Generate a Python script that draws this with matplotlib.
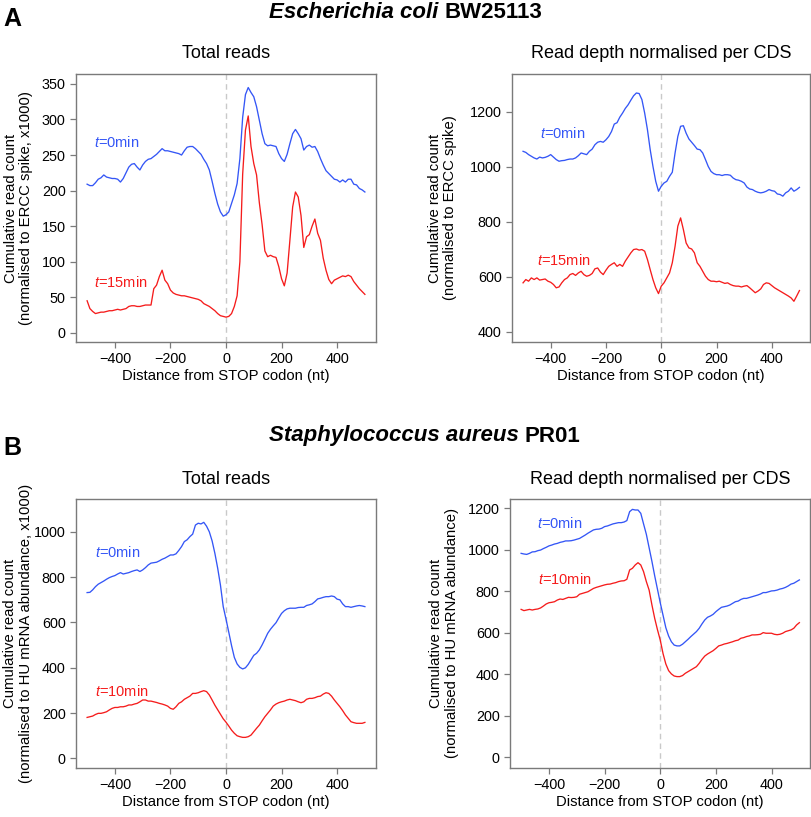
import numpy as np
import matplotlib
matplotlib.use('Agg')
import matplotlib.pyplot as plt

plt.rcParams['font.family'] = ['Liberation Sans', 'DejaVu Sans']
plt.rcParams['mathtext.fontset'] = 'custom'
plt.rcParams['mathtext.rm'] = 'Liberation Sans'
plt.rcParams['mathtext.it'] = 'Liberation Sans:italic'

BLUE = '#3456f6'
RED = '#f51c1c'
FRAME = '#7a7a7a'

# distance from STOP codon (nt), one value every 10 nt
positions = np.arange(-500, 501, 10)

# E. coli, total reads (x1000)
ecoli_total_t0 = [
    209, 207, 207, 211, 216, 218, 222, 219, 218, 217,
    217, 216, 212, 217, 225, 233, 237, 238, 233, 229,
    236, 241, 244, 245, 248, 251, 255, 259, 256, 256,
    255, 254, 253, 252, 250, 256, 261, 262, 262, 259,
    255, 251, 244, 238, 229, 213, 196, 181, 170, 164,
    166, 170, 182, 194, 210, 245, 303, 335, 345, 338,
    332, 318, 299, 280, 266, 263, 264, 263, 262, 252,
    245, 241, 251, 266, 280, 286, 280, 273, 257, 262,
    264, 261, 262, 255, 245, 236, 228, 224, 220, 216,
    215, 212, 215, 212, 216, 216, 209, 208, 203, 201, 198]
ecoli_total_t15 = [
    45, 34, 30, 27, 28, 29, 29, 30, 31, 31,
    32, 33, 32, 33, 34, 37, 38, 38, 37, 37,
    38, 39, 39, 39, 62, 67, 79, 88, 74, 69,
    60, 56, 54, 53, 52, 52, 51, 50, 49, 48,
    47, 45, 41, 39, 37, 34, 31, 27, 24, 23,
    22, 23, 27, 37, 52, 100, 223, 285, 305, 262,
    238, 222, 183, 152, 115, 107, 109, 107, 106, 93,
    76, 66, 84, 130, 177, 198, 191, 165, 120, 135,
    138, 150, 160, 140, 130, 105, 88, 75, 69, 74,
    76, 78, 80, 79, 81, 79, 72, 67, 62, 58, 54]

# E. coli, read depth normalised per CDS
ecoli_cds_t0 = [
    1056, 1052, 1044, 1038, 1032, 1028, 1035, 1032, 1034, 1038,
    1044, 1035, 1026, 1020, 1022, 1023, 1026, 1028, 1028, 1032,
    1040, 1050, 1047, 1044, 1056, 1064, 1080, 1089, 1092, 1089,
    1098, 1110, 1128, 1155, 1160, 1180, 1195, 1212, 1225, 1242,
    1258, 1268, 1266, 1244, 1195, 1135, 1062, 1001, 947, 911,
    929, 941, 947, 965, 980, 1050, 1110, 1147, 1149, 1122,
    1101, 1089, 1077, 1064, 1062, 1050, 1026, 1001, 983, 975,
    971, 971, 968, 971, 971, 969, 959, 953, 951, 947,
    941, 926, 919, 917, 911, 907, 905, 907, 911, 917,
    913, 911, 901, 899, 893, 905, 911, 923, 911, 917, 925]
ecoli_cds_t15 = [
    578, 590, 584, 596, 590, 596, 588, 590, 592, 584,
    580, 572, 560, 563, 578, 590, 596, 608, 612, 605,
    614, 620, 608, 602, 605, 612, 629, 632, 617, 608,
    624, 638, 645, 651, 638, 645, 638, 657, 672, 687,
    699, 701, 697, 699, 693, 663, 626, 590, 560, 539,
    566, 578, 596, 614, 651, 711, 784, 814, 772, 723,
    705, 701, 687, 651, 638, 620, 602, 590, 584, 584,
    582, 584, 580, 576, 578, 572, 568, 566, 566, 563,
    566, 568, 560, 551, 542, 548, 556, 572, 578, 576,
    568, 560, 554, 548, 542, 536, 530, 523, 511, 530, 550]

# S. aureus, total reads (x1000)
saureus_total_t0 = [
    732, 733, 744, 758, 769, 776, 783, 791, 798, 803,
    807, 814, 820, 814, 817, 820, 825, 829, 832, 825,
    832, 842, 854, 862, 864, 866, 872, 879, 884, 891,
    898, 898, 903, 918, 935, 957, 965, 979, 990, 1030,
    1038, 1035, 1042, 1025, 1000, 960, 905, 840, 765, 670,
    615, 557, 498, 446, 417, 402, 395, 400, 415, 435,
    455, 464, 479, 501, 526, 552, 570, 585, 599, 620,
    640, 652, 660, 663, 663, 663, 666, 667, 667, 675,
    678, 682, 692, 704, 707, 711, 714, 714, 717, 714,
    703, 700, 682, 670, 670, 667, 670, 673, 675, 673, 670]
saureus_total_t10 = [
    181, 184, 187, 194, 199, 199, 202, 206, 214, 221,
    225, 225, 228, 228, 231, 236, 236, 240, 243, 250,
    258, 258, 253, 253, 250, 247, 243, 240, 236, 231,
    221, 217, 228, 243, 250, 261, 268, 275, 287, 287,
    290, 295, 299, 295, 280, 258, 235, 215, 195, 175,
    160, 143, 125, 111, 100, 96, 93, 93, 96, 103,
    118, 133, 147, 166, 184, 199, 214, 231, 240, 246,
    250, 253, 258, 261, 258, 255, 250, 246, 250, 261,
    265, 265, 268, 273, 275, 284, 290, 287, 275, 258,
    243, 228, 211, 192, 177, 162, 158, 155, 155, 155, 159]

# S. aureus, read depth normalised per CDS
saureus_cds_t0 = [
    983, 980, 978, 983, 990, 991, 996, 999, 1006, 1012,
    1019, 1023, 1028, 1031, 1036, 1039, 1043, 1043, 1044, 1047,
    1051, 1055, 1063, 1071, 1080, 1088, 1096, 1099, 1100, 1104,
    1112, 1115, 1120, 1125, 1128, 1131, 1131, 1134, 1141, 1184,
    1195, 1192, 1192, 1176, 1125, 1075, 1010, 945, 875, 810,
    745, 685, 625, 585, 557, 541, 537, 537, 545, 557,
    569, 582, 594, 606, 622, 643, 662, 675, 681, 689,
    702, 713, 723, 726, 729, 734, 742, 750, 753, 761,
    766, 766, 770, 774, 778, 782, 787, 794, 794, 798,
    802, 803, 806, 811, 814, 819, 826, 835, 839, 847, 855]
saureus_cds_t10 = [
    713, 707, 710, 713, 710, 713, 715, 720, 729, 739,
    745, 747, 750, 758, 763, 761, 766, 771, 770, 771,
    774, 786, 790, 794, 798, 806, 814, 819, 823, 827,
    831, 834, 835, 839, 842, 847, 850, 851, 858, 903,
    911, 927, 938, 927, 895, 847, 806, 735, 670, 615,
    565, 500, 450, 418, 402, 392, 389, 389, 394, 405,
    413, 421, 429, 437, 453, 472, 488, 498, 506, 514,
    525, 537, 541, 546, 549, 553, 557, 562, 565, 574,
    577, 582, 585, 590, 590, 591, 593, 601, 598, 598,
    598, 593, 591, 593, 598, 606, 610, 614, 622, 638, 649]

W, H = 812, 817
fig = plt.figure(figsize=(W / 100, H / 100), dpi=100)


def px_rect(x0, y0, x1, y1):
    return [x0 / W, 1 - y1 / H, (x1 - x0) / W, (y1 - y0) / H]


def draw_panel(box, t0, tn, late, ylim, yticks, title, title_y, ylabel, ylabel_x,
               lab0, labn):
    ax = fig.add_axes(px_rect(*box))
    ax.axvline(0, color='#c9c9c9', lw=1.0, ls=(0, (4, 3)), zorder=1)
    ax.plot(positions, t0, color=BLUE, lw=0.95, zorder=3)
    ax.plot(positions, tn, color=RED, lw=0.95, zorder=3)
    ax.set_xlim(-540, 540)
    ax.set_ylim(*ylim)
    ax.set_xticks([-400, -200, 0, 200, 400])
    ax.set_yticks(yticks)
    for s in ax.spines.values():
        s.set_color(FRAME)
        s.set_linewidth(1.0)
    ax.tick_params(direction='out', length=4.5, width=0.9, color=FRAME,
                   labelsize=10.4, pad=3)
    ax.set_xlabel('Distance from STOP codon (nt)', fontsize=10.7, labelpad=2)
    cx = (box[0] + box[2]) / 2 / W
    fig.text(cx, 1 - title_y / H, title, ha='center', va='center', fontsize=13)
    cy = 1 - (box[1] + box[3]) / 2 / H
    fig.text(ylabel_x / W, cy, ylabel, rotation=90, ha='center', va='center',
             fontsize=10.7, linespacing=1.1)
    ax.text(lab0[0], lab0[1], r'$t$=0min', color=BLUE, fontsize=10.5,
            ha='left', va='center')
    ax.text(labn[0], labn[1], r'$t$=' + late, color=RED, fontsize=10.5,
            ha='left', va='center')
    return ax


draw_panel((76, 74, 376, 342), ecoli_total_t0, ecoli_total_t15, '15min',
           (-13, 364), range(0, 351, 50), 'Total reads', 53,
           'Cumulative read count\n(normalised to ERCC spike, x1000)', 18.5,
           (-475, 267), (-475, 71))
draw_panel((512, 74, 810.5, 342), ecoli_cds_t0, ecoli_cds_t15, '15min',
           (363, 1337), range(400, 1201, 200), 'Read depth normalised per CDS', 53,
           'Cumulative read count\n(normalised to ERCC spike)', 442.5,
           (-440, 1119), (-451, 659))
draw_panel((76, 499, 376, 767.5), saureus_total_t0, saureus_total_t10, '10min',
           (-40, 1145), range(0, 1001, 200), 'Total reads', 480,
           'Cumulative read count\n(normalised to HU mRNA abundance, x1000)', 18,
           (-470, 909), (-470, 294))
draw_panel((510, 499, 810.5, 767.7), saureus_cds_t0, saureus_cds_t10, '10min',
           (-50, 1245), range(0, 1201, 200), 'Read depth normalised per CDS', 480,
           'Cumulative read count\n(normalised to HU mRNA abundance)', 444,
           (-444, 1128), (-440, 855))

# panel letters and organism headings
fig.text(3 / W, 1 - 19 / H, 'A', fontsize=18, fontweight='bold', ha='left', va='center')
fig.text(3 / W, 1 - 448 / H, 'B', fontsize=18, fontweight='bold', ha='left', va='center')

fig.canvas.draw()
renderer = fig.canvas.get_renderer()
for y_px, species, strain in [(12, 'Escherichia coli', 'BW25113'),
                              (436, 'Staphylococcus aureus', 'PR01')]:
    t1 = fig.text(269 / W, 1 - y_px / H, species, fontsize=16, fontweight='bold',
                  fontstyle='italic', ha='left', va='center')
    bb = t1.get_window_extent(renderer)
    fig.text((bb.x1 + 6) / W, 1 - y_px / H, strain, fontsize=16, fontweight='bold',
             ha='left', va='center')

fig.savefig('out.png', dpi=100)
